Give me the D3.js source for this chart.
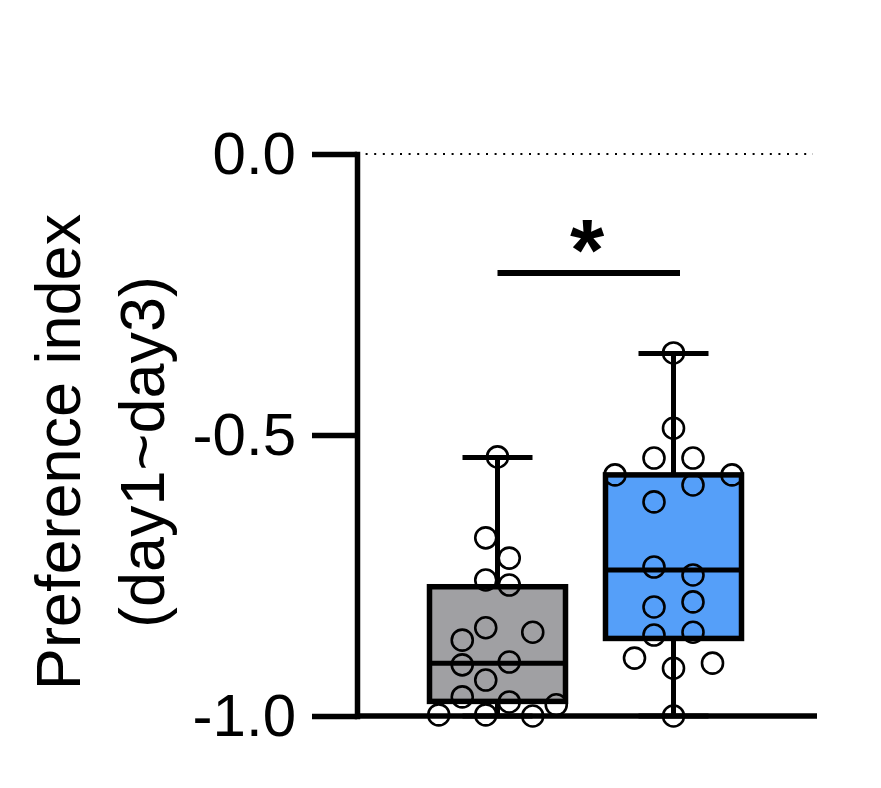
<!DOCTYPE html>
<html>
<head>
<meta charset="utf-8">
<script src="https://cdn.jsdelivr.net/npm/d3@7"></script>
<style>
  body { margin: 0; background: #fff; }
  text { font-family: "Liberation Sans", Arial, sans-serif; }
</style>
</head>
<body>
<script>
// Variables
const w = 881;
const h = 788;

// Datos
const groups = ["Control", "Treated"];
const groupColors = ["#a0a0a3", "#559ff9"];
const yTicks = [-1.0, -0.5, 0.0];
const axisTitle = ["Preference index", "(day1~day3)"];

// Estadisticas de caja: [min, q1, mediana, q3, max]
const boxStats = [
    [-1.0, -0.974, -0.906, -0.770, -0.540],
    [-1.0, -0.862, -0.740, -0.571, -0.355]
];

// Puntos individuales (valor y columna de dispersión)
const values1 = [-0.539, -0.683, -0.719, -0.758, -0.767, -0.843, -0.851, -0.865, -0.909,
                 -0.904, -0.936, -0.966, -0.975, -0.980, -0.998, -0.998, -1.0];
const slots1  = [0, -0.5, 0.5, -0.5, 0.5, -0.5, 1.5, -1.5, -1.5,
                 0.5, -0.5, -1.5, 0.5, 2.5, -2.5, -0.5, 1.5];
const values2 = [-0.354, -0.488, -0.541, -0.541, -0.571, -0.571, -0.589, -0.619, -0.735,
                 -0.749, -0.806, -0.797, -0.856, -0.851, -0.897, -0.915, -0.906, -1.0];
const slots2  = [0, 0, -1, 1, -3, 3, 1, -1, -1,
                 1, -1, 1, -1, 1, -2, 0, 2, 0];
const pointValues = [values1, values2];
const pointSlots = [slots1, slots2];
const slotStep = [23.5, 19.5];

const svg = d3.select("body")
    .append("svg")
    .attr("width", w)
    .attr("height", h);

// Escalas
const yScale = d3.scaleLinear().domain([-1, 0]).range([716, 154]);
const xScale = d3.scalePoint().domain(groups).range([497.5, 673.5]);
const boxW = 136;
const capW = 70;
const fmt = (d) => d3.format(".1f")(d).replace("\u2212", "-");

// Linea punteada en 0
svg.append("line")
    .attr("x1", 357).attr("x2", 813)
    .attr("y1", yScale(0)).attr("y2", yScale(0))
    .attr("stroke", "#000")
    .attr("stroke-width", 2)
    .attr("stroke-dasharray", "2,6.6");

// Cajas
groups.forEach((g, i) => {
    const s = boxStats[i];
    const cx = xScale(g);
    const grp = svg.append("g");

    // bigote
    grp.append("line")
        .attr("x1", cx).attr("x2", cx)
        .attr("y1", yScale(s[0])).attr("y2", yScale(s[4]))
        .attr("stroke", "#000").attr("stroke-width", 5);
    grp.append("line")
        .attr("x1", cx - capW / 2).attr("x2", cx + capW / 2)
        .attr("y1", yScale(s[4])).attr("y2", yScale(s[4]))
        .attr("stroke", "#000").attr("stroke-width", 5);
    grp.append("line")
        .attr("x1", cx - capW / 2).attr("x2", cx + capW / 2)
        .attr("y1", yScale(s[0])).attr("y2", yScale(s[0]))
        .attr("stroke", "#000").attr("stroke-width", 5);

    // caja
    grp.append("rect")
        .attr("x", cx - boxW / 2)
        .attr("y", yScale(s[3]))
        .attr("width", boxW)
        .attr("height", yScale(s[1]) - yScale(s[3]))
        .attr("fill", groupColors[i])
        .attr("stroke", "#000")
        .attr("stroke-width", 5.5);

    // mediana
    grp.append("line")
        .attr("x1", cx - boxW / 2).attr("x2", cx + boxW / 2)
        .attr("y1", yScale(s[2])).attr("y2", yScale(s[2]))
        .attr("stroke", "#000").attr("stroke-width", 5);

    // puntos
    grp.selectAll("circle")
        .data(pointValues[i].map((v, j) => ({ v: v, slot: pointSlots[i][j] })))
        .enter()
        .append("circle")
        .attr("cx", (d) => cx + d.slot * slotStep[i])
        .attr("cy", (d) => yScale(d.v))
        .attr("r", 10.5)
        .attr("fill", "none")
        .attr("stroke", "#000")
        .attr("stroke-width", 2.6);
});

// Eje Y
const yAxis = d3.axisLeft(yScale)
    .tickValues(yTicks)
    .tickFormat(fmt)
    .tickSize(45)
    .tickSizeOuter(0)
    .tickPadding(16);

const yg = svg.append("g")
    .attr("transform", "translate(357,0)")
    .call(yAxis);
yg.select(".domain").attr("stroke-width", 5.5).attr("stroke-linecap", "square");
yg.selectAll(".tick line").attr("stroke-width", 5.5);
yg.selectAll(".tick text")
    .attr("font-size", "60px")
    .attr("font-family", "Liberation Sans, Arial, sans-serif")
    .attr("fill", "#000");

// Eje X (sin ticks)
svg.append("line")
    .attr("x1", 357).attr("x2", 817)
    .attr("y1", yScale(-1)).attr("y2", yScale(-1))
    .attr("stroke", "#000")
    .attr("stroke-width", 5.5);

// Titulo eje Y
axisTitle.forEach((t, i) => {
    const x = 80 + i * 84;
    const y = 452;
    svg.append("text")
        .attr("x", x)
        .attr("y", y)
        .attr("text-anchor", "middle")
        .attr("font-size", "63px")
        .attr("fill", "#000")
        .attr("transform", "rotate(-90," + x + "," + y + ")")
        .text(t);
});

// Significancia
svg.append("line")
    .attr("x1", xScale(groups[0])).attr("x2", 680)
    .attr("y1", 273).attr("y2", 273)
    .attr("stroke", "#000")
    .attr("stroke-width", 6);

svg.append("text")
    .attr("x", 587)
    .attr("y", 280)
    .attr("text-anchor", "middle")
    .attr("font-size", "88px")
    .attr("font-weight", "bold")
    .attr("fill", "#000")
    .text("*");
</script>
</body>
</html>
